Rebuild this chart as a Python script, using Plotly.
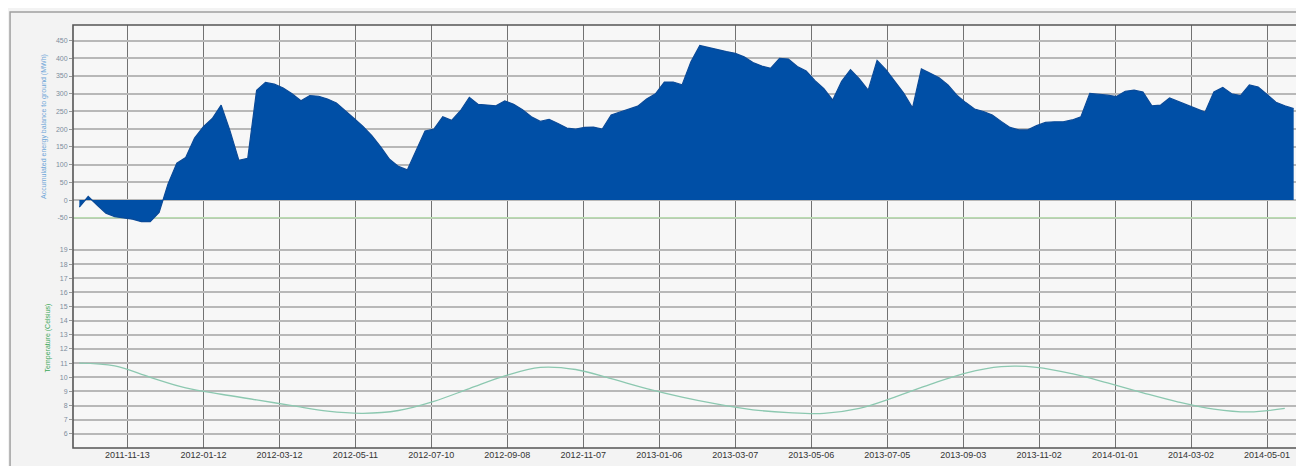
import pandas as pd
import plotly.graph_objects as go
from plotly.subplots import make_subplots

# ---------------- data ----------------
energy_start = "2011-10-06"
energy_step = "7D"
energy_values = [
    -20, 10, -14, -37, -47, -51, -54, -61, -61, -35,
    45, 104, 120, 175, 207, 230, 268, 195, 112, 118,
    310, 332, 327, 316, 300, 280, 295, 293, 285, 274,
    253, 230, 208, 182, 150, 115, 95, 85, 140, 195,
    200, 235, 225, 252, 290, 270, 268, 266, 280, 270,
    255, 235, 222, 228, 216, 203, 200, 205, 206, 200,
    240, 248, 255, 265, 285, 300, 333, 333, 325, 390,
    436, 430, 423, 419, 414, 404, 388, 378, 372, 400,
    398, 377, 364, 337, 314, 282, 335, 368, 342, 310,
    394, 368, 335, 302, 260, 370, 358, 345, 325, 296,
    275, 257, 250, 240, 222, 205, 198, 198, 210, 219,
    221, 221, 226, 235, 301, 299, 296, 292, 307, 310,
    305, 266, 268, 288, 278, 270, 260, 248, 305, 318,
    300, 295, 325, 319, 298, 276, 266, 258,
]

temp_start = "2011-10-06"
temp_step = "28D"
temp_values = [
    11.0, 10.8, 10.0, 9.25, 8.8, 8.4, 8.0, 7.6, 7.45, 7.65,
    8.3, 9.2, 10.1, 10.7, 10.55, 9.9, 9.2, 8.6, 8.1, 7.7,
    7.5, 7.45, 7.8, 8.6, 9.5, 10.3, 10.75, 10.7, 10.25, 9.6,
    8.9, 8.25, 7.75, 7.55, 7.8,
]

reference_level = [-50, -50]
reference_dates = ["2011-10-01", "2014-05-27"]

x_tick_dates = [
    "2011-11-13", "2012-01-12", "2012-03-12", "2012-05-11", "2012-07-10",
    "2012-09-08", "2012-11-07", "2013-01-06", "2013-03-07", "2013-05-06",
    "2013-07-05", "2013-09-03", "2013-11-02", "2014-01-01", "2014-03-02",
    "2014-05-01",
]
energy_ticks = [-50, 0, 50, 100, 150, 200, 250, 300, 350, 400, 450]
temp_ticks = [6, 7, 8, 9, 10, 11, 12, 13, 14, 15, 16, 17, 18, 19]

x_range = ["2011-10-01", "2014-05-27"]
energy_range = [-79, 494]
temp_range = [5.0, 20.55]

energy_title = "Accumulated energy balance to ground (MWh)"
temp_title = "Temperature (Celsius)"

# ---------------- figure ----------------
energy_dates = pd.date_range(energy_start, periods=len(energy_values), freq=energy_step)
temp_dates = pd.date_range(temp_start, periods=len(temp_values), freq=temp_step)

fig = make_subplots(rows=2, cols=1, shared_xaxes=True, vertical_spacing=0,
                    row_heights=[0.48, 0.52])

fig.add_trace(go.Scatter(
    x=reference_dates, y=reference_level, mode="lines",
    line=dict(color="#b9dcb0", width=1.5), hoverinfo="skip", showlegend=False),
    row=1, col=1)

fig.add_trace(go.Scatter(
    x=energy_dates, y=energy_values, mode="lines", fill="tozeroy",
    fillcolor="#004fa6", line=dict(color="#0a4a98", width=1.2),
    showlegend=False), row=1, col=1)

fig.add_trace(go.Scatter(
    x=temp_dates, y=temp_values, mode="lines", line_shape="spline",
    line=dict(color="#8cc8b0", width=1.3), showlegend=False), row=2, col=1)

grid_h = "#b8b8b8"
grid_v = "#727272"
tick_font = dict(family="Liberation Sans, Arial, sans-serif", size=7, color="#7d8c9c")

fig.update_xaxes(
    range=x_range, tickvals=x_tick_dates, ticktext=x_tick_dates,
    showgrid=True, gridcolor=grid_v, gridwidth=1.3,
    showline=False, ticks="", zeroline=False, automargin=False)
fig.update_xaxes(showticklabels=False, row=1, col=1)
fig.update_xaxes(tickfont=dict(family="Liberation Sans, Arial, sans-serif", size=9, color="#333333"),
                 row=2, col=1)

fig.update_yaxes(
    range=energy_range, tickvals=energy_ticks, ticktext=[str(v) for v in energy_ticks],
    showgrid=True, gridcolor=grid_h, gridwidth=1.6, zeroline=False,
    showline=False, automargin=False,
    ticks="outside", ticklen=3, tickcolor="#999999",
    tickfont=tick_font,
    title=dict(text=energy_title, font=dict(size=7, color="#6fa6d8",
               family="Liberation Sans, Arial, sans-serif"), standoff=8),
    row=1, col=1)

fig.update_yaxes(
    range=temp_range, tickvals=temp_ticks, ticktext=[str(v) for v in temp_ticks],
    showgrid=True, gridcolor=grid_h, gridwidth=1.6, zeroline=False,
    showline=False, automargin=False,
    ticks="outside", ticklen=3, tickcolor="#999999",
    tickfont=tick_font,
    title=dict(text=temp_title, font=dict(size=7, color="#3aa858",
               family="Liberation Sans, Arial, sans-serif"), standoff=8),
    row=2, col=1)

fig.update_layout(
    width=1296, height=458,
    margin=dict(l=65, r=4, t=17, b=18, autoexpand=False),
    paper_bgcolor="#f3f3f3",
    plot_bgcolor="#f7f7f7",
    showlegend=False,
    shapes=[
        dict(type="rect", xref="paper", yref="paper",
             x0=-0.0513, x1=1.0024, y0=-0.1, y1=1.031,
             line=dict(color="#a0a0a0", width=1.5), fillcolor="rgba(0,0,0,0)",
             layer="below"),
        dict(type="rect", xref="paper", yref="paper",
             x0=0, x1=1, y0=0, y1=1,
             line=dict(color="#555555", width=1.6), fillcolor="rgba(0,0,0,0)",
             layer="above"),
    ],
)

fig.write_html("out.html")
